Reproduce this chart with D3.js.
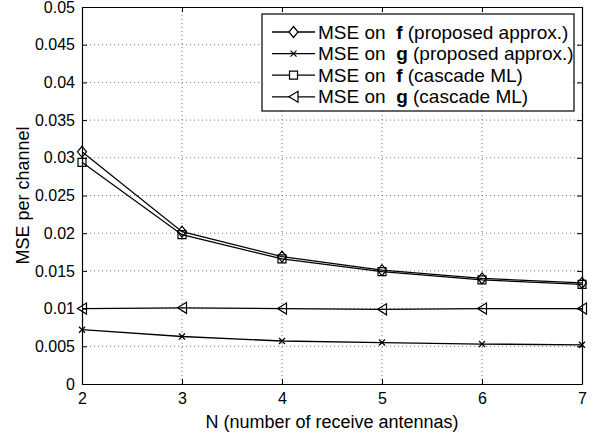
<!DOCTYPE html>
<html>
<head>
<meta charset="utf-8">
<script src="https://cdn.jsdelivr.net/npm/d3@7"></script>
<style>
  body { margin: 0; background: #fff; }
  svg { font-family: "Liberation Sans", Arial, Helvetica, sans-serif; }
</style>
</head>
<body>
<div id="chart"></div>
<script>
"use strict";

// x values: number of receive antennas
const antennas = [2, 3, 4, 5, 6, 7];

// series values
const mseFProposed = [0.0308, 0.0202, 0.0169, 0.0151, 0.0140, 0.0134];
const mseGProposed = [0.0072, 0.0063, 0.0057, 0.0055, 0.0053, 0.0052];
const mseFCascade  = [0.0294, 0.0198, 0.0166, 0.0149, 0.0138, 0.0132];
const mseGCascade  = [0.0100, 0.0101, 0.0100, 0.0099, 0.0100, 0.0100];

const xTicks = [2, 3, 4, 5, 6, 7];
const yTicks = [0, 0.005, 0.01, 0.015, 0.02, 0.025, 0.03, 0.035, 0.04, 0.045, 0.05];
const yTickLabels = ["0", "0.005", "0.01", "0.015", "0.02", "0.025", "0.03", "0.035", "0.04", "0.045", "0.05"];

const seriesNames = [
    { pre: "MSE on  ", bold: "f", post: " (proposed approx.)" },
    { pre: "MSE on  ", bold: "g", post: " (proposed approx.)" },
    { pre: "MSE on  ", bold: "f", post: " (cascade ML)" },
    { pre: "MSE on  ", bold: "g", post: " (cascade ML)" }
];
const seriesValues = [mseFProposed, mseGProposed, mseFCascade, mseGCascade];
const seriesMarkers = ["diamond", "cross", "square", "triangleLeft"];

const width = 605, height = 433;
const margin = { top: 7, right: 23, bottom: 49, left: 82 };

const svg = d3.select("#chart").append("svg")
    .attr("width", width)
    .attr("height", height);

const x = d3.scaleLinear()
    .domain([2, 7])
    .range([margin.left, width - margin.right]);
const y = d3.scaleLinear()
    .domain([0, 0.05])
    .range([height - margin.bottom, margin.top]);

const x0 = x.range()[0], x1 = x.range()[1];
const y0 = y.range()[0], y1 = y.range()[1];

// dotted grid
const grid = svg.append("g").attr("stroke", "#555").attr("stroke-width", 0.8)
    .attr("stroke-dasharray", "1,3");
grid.selectAll(".gx").data(xTicks.slice(1, -1)).join("line")
    .attr("x1", d => x(d)).attr("x2", d => x(d))
    .attr("y1", y0).attr("y2", y1);
grid.selectAll(".gy").data(yTicks.slice(1, -1)).join("line")
    .attr("x1", x0).attr("x2", x1)
    .attr("y1", d => y(d)).attr("y2", d => y(d));

// axes with inward ticks, box style
const tickLen = 5;
svg.append("g")
    .attr("transform", `translate(0,${y0})`)
    .call(d3.axisBottom(x).tickValues(xTicks).tickSizeInner(-tickLen).tickSizeOuter(0).tickPadding(9)
        .tickFormat(d3.format("d")))
    .call(g => g.selectAll("text").attr("font-size", 16).attr("fill", "#000"));
svg.append("g")
    .attr("transform", `translate(0,${y1})`)
    .call(d3.axisTop(x).tickValues(xTicks).tickSizeInner(-tickLen).tickSizeOuter(0).tickFormat(""));
svg.append("g")
    .attr("transform", `translate(${x0},0)`)
    .call(d3.axisLeft(y).tickValues(yTicks).tickSizeInner(-tickLen).tickSizeOuter(0).tickPadding(7)
        .tickFormat((d, i) => yTickLabels[i]))
    .call(g => g.selectAll("text").attr("font-size", 16).attr("fill", "#000"));
svg.append("g")
    .attr("transform", `translate(${x1},0)`)
    .call(d3.axisRight(y).tickValues(yTicks).tickSizeInner(-tickLen).tickSizeOuter(0).tickFormat(""));

svg.selectAll(".domain").attr("stroke", "#000").attr("stroke-width", 1.2);
svg.selectAll(".tick line").attr("stroke", "#000").attr("stroke-width", 1);

// marker shapes
function markerPath(type) {
    switch (type) {
        case "diamond": return "M0,-5.5L4.5,0L0,5.5L-4.5,0Z";
        case "square": return "M-4,-4H4V4H-4Z";
        case "triangleLeft": return "M-4.5,0L4.5,-5.5V5.5Z";
        case "cross": return "M-3,-3L3,3M-3,3L3,-3";
    }
}

const line = d3.line().x((d, i) => x(antennas[i])).y(d => y(d));

// series
seriesValues.forEach((vals, s) => {
    const g = svg.append("g");
    g.append("path")
        .datum(vals)
        .attr("d", line)
        .attr("fill", "none")
        .attr("stroke", "#000")
        .attr("stroke-width", 1.3);
    g.selectAll("path.m").data(vals).join("path")
        .attr("class", "m")
        .attr("transform", (d, i) => `translate(${x(antennas[i])},${y(d)})`)
        .attr("d", markerPath(seriesMarkers[s]))
        .attr("fill", "none")
        .attr("stroke", "#000")
        .attr("stroke-width", 1.2);
});

// legend
const legend = svg.append("g");
legend.append("rect")
    .attr("x", 262).attr("y", 14)
    .attr("width", 312).attr("height", 97)
    .attr("fill", "#fff").attr("stroke", "#000").attr("stroke-width", 1.2);
seriesNames.forEach((nm, s) => {
    const cy = 32 + s * 21.6;
    legend.append("line")
        .attr("x1", 272).attr("x2", 315).attr("y1", cy).attr("y2", cy)
        .attr("stroke", "#000").attr("stroke-width", 1.3);
    legend.append("path")
        .attr("transform", `translate(293.5,${cy})`)
        .attr("d", markerPath(seriesMarkers[s]))
        .attr("fill", "#fff").attr("stroke", "#000").attr("stroke-width", 1.2);
    const t = legend.append("text")
        .attr("x", 318).attr("y", cy)
        .attr("dy", "0.35em")
        .attr("font-size", 19)
        .attr("xml:space", "preserve")
        .style("white-space", "pre");
    t.append("tspan").text(nm.pre);
    t.append("tspan").attr("font-weight", "bold").text(nm.bold);
    t.append("tspan").text(nm.post);
});

// axis labels
svg.append("text")
    .attr("x", (x0 + x1) / 2).attr("y", 428)
    .attr("text-anchor", "middle")
    .attr("font-size", 18)
    .text("N (number of receive antennas)");
svg.append("text")
    .attr("transform", `translate(29,${(y0 + y1) / 2}) rotate(-90)`)
    .attr("text-anchor", "middle")
    .attr("font-size", 18)
    .text("MSE per channel");
</script>
</body>
</html>
